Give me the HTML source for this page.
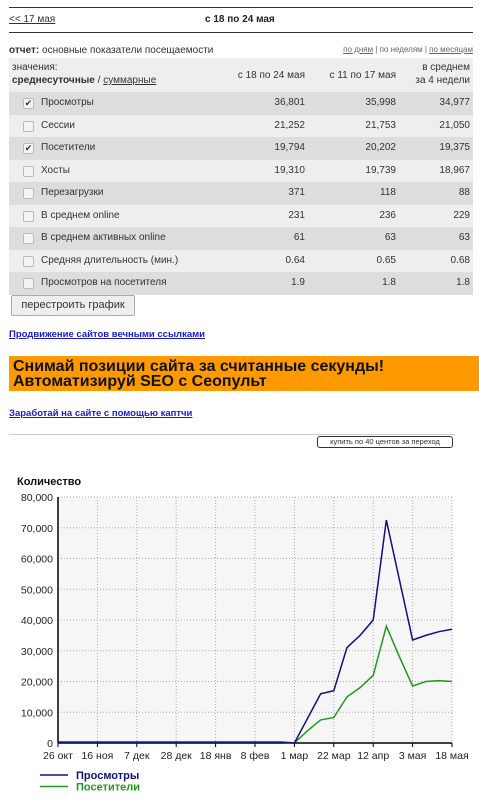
<!DOCTYPE html>
<html><head><meta charset="utf-8"><style>
body{margin:0;width:479px;height:800px;background:#fff;font-family:"Liberation Sans","Noto Sans CJK SC",sans-serif;font-size:10px;color:#333;position:relative;overflow:hidden}
.a{position:absolute}
a{color:#333}
.row{position:absolute;left:9px;width:464px;height:22.5px;line-height:22.5px}
.row span{position:absolute}
.cb{position:absolute;left:14px;top:6px;width:9px;height:9px;border:1px solid #bbb;background:#f4f4f4;border-radius:2px;font-size:9px;line-height:9px;text-align:center;color:#333}
.v1{right:168px}.v2{right:77px}.v3{right:3px}
</style></head><body>
<div class="a" style="left:9px;top:7px;width:464px;height:1px;background:#333"></div>
<a class="a" href="#" style="left:9px;top:14px">&lt;&lt; 17 мая</a>
<div class="a" style="left:205px;top:14px;font-weight:bold;color:#222">с 18 по 24 мая</div>
<div class="a" style="left:9px;top:32px;width:464px;height:1px;background:#333"></div>
<div class="a" style="left:9px;top:45px"><b>отчет:</b> основные показатели посещаемости</div>
<div class="a" style="right:6px;top:45px;font-size:8px;color:#666"><a href="#" style="color:#666">по дням</a> | по неделям | <a href="#" style="color:#666">по месяцам</a></div>
<div class="a" style="left:9px;top:58px;width:464px;height:34px;background:#eee"></div>
<div class="a" style="left:12px;top:61px;line-height:13px">значения:<br><b>среднесуточные</b> / <a href="#">суммарные</a></div>
<div class="a" style="right:174px;top:70px">с 18 по 24 мая</div>
<div class="a" style="right:83px;top:70px">с 11 по 17 мая</div>
<div class="a" style="right:9px;top:61px;line-height:13px;text-align:right">в среднем<br>за 4 недели</div>
<div id="rows"></div>
<div class="a" style="left:11px;top:295px;width:122px;height:19px;border:1px solid #aaa;background:#eee;border-radius:2px;font-size:11px;line-height:19px;text-align:center">перестроить график</div>
<a class="a" href="#" style="left:9px;top:329px;color:#1a1acc;font-weight:bold;font-size:9.5px">Продвижение сайтов вечными ссылками</a>
<div class="a" style="left:9px;top:356px;width:470px;height:35px;background:#fe9a00;color:#111;font-weight:bold;font-size:16px;line-height:15px;padding:3px 4px;box-sizing:border-box">Снимай позиции сайта за считанные секунды!<br>Автоматизируй SEO с Сеопульт</div>
<a class="a" href="#" style="left:9px;top:408px;color:#1a1acc;font-weight:bold;font-size:9.5px">Заработай на сайте с помощью каптчи</a>
<div class="a" style="left:9px;top:434px;width:446px;height:1px;background:#ccc"></div>
<div class="a" style="left:317px;top:436px;width:134px;height:10px;border:1px solid #333;border-radius:3px;font-size:7.5px;line-height:10px;text-align:center">купить по 40 центов за переход</div>
<svg class="a" style="left:0;top:470px" width="479" height="330" id="chart"></svg>
<script>
const rowNames=["Просмотры","Сессии","Посетители","Хосты","Перезагрузки","В среднем online","В среднем активных online","Средняя длительность (мин.)","Просмотров на посетителя"];
const col1=["36,801","21,252","19,794","19,310","371","231","61","0.64","1.9"];
const col2=["35,998","21,753","20,202","19,739","118","236","63","0.65","1.8"];
const col3=["34,977","21,050","19,375","18,967","88","229","63","0.68","1.8"];
const checked=[1,0,1,0,0,0,0,0,0];
const R=document.getElementById('rows');
rowNames.forEach((n,i)=>{
 const d=document.createElement('div');d.className='row';
 
 
 d.style.top=(92+i*22.5)+'px';d.style.background=i%2?'#eee':'#ddd';
 d.innerHTML='<span class="cb">'+(checked[i]?'✔':'')+'</span><span style="left:32px">'+n+'</span><span class="v1">'+col1[i]+'</span><span class="v2">'+col2[i]+'</span><span class="v3">'+col3[i]+'</span>';
 R.appendChild(d);
});
const xLabels=["26 окт","16 ноя","7 дек","28 дек","18 янв","8 фев","1 мар","22 мар","12 апр","3 мая","18 мая"];
const yTicks=[0,10000,20000,30000,40000,50000,60000,70000,80000];
const views=[300,300,300,300,300,300,300,300,300,300,300,300,300,300,300,300,300,300,0,8000,16000,17000,31000,35000,40000,72500,53000,33500,35000,36200,37000];
const visitors=[300,300,300,300,300,300,300,300,300,300,300,300,300,300,300,300,300,300,0,4000,7500,8300,15000,18000,22000,38000,28000,18500,20000,20300,20000];
const S=document.getElementById('chart'),NS='http://www.w3.org/2000/svg';
const x0=58,x1=452,y0=273,y1=27;
const X=i=>x0+(x1-x0)*i/30, Y=v=>y0-(y0-y1)*v/80000;
function el(t,a,txt){const e=document.createElementNS(NS,t);for(const k in a)e.setAttribute(k,a[k]);if(txt!=null)e.textContent=txt;S.appendChild(e);return e;}
let e=el('rect',{x:x0,y:y1,width:x1-x0,height:y0-y1,fill:'#f6f6f6'});

e=el('text',{x:17,y:15,'font-size':'11','font-weight':'bold',fill:'#111'},'Количество');

yTicks.forEach(v=>{
 e=el('line',{x1:x0,x2:x1,y1:Y(v),y2:Y(v),stroke:'#aaa','stroke-dasharray':'1,2'});
 
 e=el('text',{x:x0-5,y:Y(v)+4,'font-size':'10.5','text-anchor':'end',fill:'#222'},v.toLocaleString('en-US'));
 
});
xLabels.forEach((l,i)=>{
 const x=X(i*3);
 e=el('line',{x1:x,x2:x,y1:y1,y2:y0,stroke:'#aaa','stroke-dasharray':'1,2'});
 
 e=el('line',{x1:x,x2:x,y1:y0,y2:y0+4,stroke:'#000'});
 
 e=el('text',{x:x,y:y0+16,'font-size':'10.5','text-anchor':'middle',fill:'#222'},l);
 
});
e=el('line',{x1:x0,x2:x0,y1:y1,y2:y0,stroke:'#000','stroke-width':1.5});

e=el('line',{x1:x0,x2:x1,y1:y0,y2:y0,stroke:'#000','stroke-width':1.5});

e=el('polyline',{points:visitors.map((v,i)=>X(i)+','+Y(v)).join(' '),fill:'none',stroke:'#1e9a1e','stroke-width':1.5});

e=el('polyline',{points:views.map((v,i)=>X(i)+','+Y(v)).join(' '),fill:'none',stroke:'#101080','stroke-width':1.5});

[["Просмотры","#101080"],["Посетители","#1e9a1e"]].forEach((l,i)=>{
 const y=305+i*11.5;
 e=el('line',{x1:40,x2:68,y1:y,y2:y,stroke:l[1],'stroke-width':1.5});
 
 e=el('text',{x:76,y:y+4,'font-size':'11','font-weight':'bold',fill:l[1]},l[0]);
 
});
</script>
</body></html>
